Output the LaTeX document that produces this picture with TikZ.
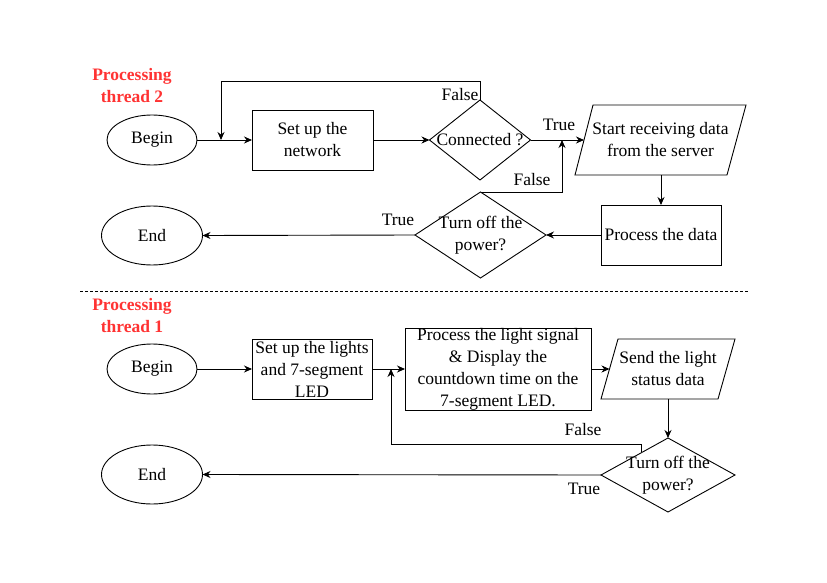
\documentclass[tikz,border=0pt]{standalone}
\usepackage{fontspec}
\setmainfont{Liberation Serif}
\usetikzlibrary{shapes.geometric,arrows.meta,calc}
\definecolor{ttlred}{RGB}{255,51,51}
\begin{document}
\begin{tikzpicture}[x=1pt,y=-1pt,
  base/.style={font=\fontsize{17.5}{22}\selectfont, inner sep=0pt, outer sep=0pt},
  term/.style={base, draw, line width=0.9pt, ellipse},
  proc/.style={base, draw, line width=0.9pt, rectangle, align=center},
  dec/.style={draw, line width=0.9pt, diamond, inner sep=0pt, outer sep=0pt},
  io/.style={draw, line width=0.9pt},
  txt/.style={base, align=center},
  lbl/.style={base},
  ttl/.style={font=\fontsize{17.5}{22}\selectfont\bfseries, inner sep=0pt, text=ttlred, align=center},
  arr/.style={line width=0.9pt, -{Stealth[length=8pt,width=7pt]}},
  sep/.style={line width=0.7pt, dash pattern=on 3pt off 2pt}
]
\useasboundingbox (0,0) rectangle (827,583);

% ---------------- thread 2 ----------------
\node[ttl] (t2) at (132,86) {Processing\\thread 2};
\node[term, minimum width=90, minimum height=50] (b2) at (152,140) {Begin};
\node[proc, minimum width=121, minimum height=60] (net) at (312.5,140) {Set up the\\network};
\node[dec, minimum width=101, minimum height=80] (conn) at (480,140) {};
\node[txt] (connt) at (480,140) {Connected ?};
\draw[io] (593,105) -- (746,105) -- (727,175) -- (575,175) -- cycle;
\node[txt] (recv) at (660.5,140) {Start receiving data\\from the server};
\coordinate (recvw) at (584,140);
\coordinate (recvs) at (661,175);
\node[proc, minimum width=120, minimum height=60] (data) at (661,235) {Process the data};
\node[dec, minimum width=131, minimum height=86] (off2) at (480.5,235) {};
\node[txt] (off2t) at (480.5,235) {Turn off the\\power?};
\node[term, minimum width=101, minimum height=59] (end2) at (152,235.5) {End};

\coordinate (loop2) at (221,81);
\coordinate (j2) at (562,140);
\draw[arr] (b2) -- (net);
\draw[arr] (net) -- (conn.west);
\draw[arr] (conn.north) |- (loop2) -- (loop2 |- b2);
\draw[arr] (conn.east) -- (recvw);
\draw[arr] (recvs) -- (data.north);
\draw[arr] (data.west) -- (off2.east);
\draw[arr] (off2.north) -| (j2);
\draw[arr] (off2.west) -- (end2.east);

\node[lbl] (f2a) at (460,95) {False};
\node[lbl] (t2a) at (559,125) {True};
\node[lbl] (f2b) at (532,180) {False};
\node[lbl] (t2b) at (398,220) {True};

% ---------------- separator ----------------
\coordinate (sepl) at (80,291);
\coordinate (sepr) at (748,291);
\draw[sep] (sepl) -- (sepr);

% ---------------- thread 1 ----------------
\node[ttl] (t1) at (132,316) {Processing\\thread 1};
\node[term, minimum width=90, minimum height=50] (b1) at (152,369) {Begin};
\node[proc, minimum width=120, minimum height=60] (setl) at (312,369) {Set up the lights\\and 7-segment\\LED};
\node[proc, minimum width=186, minimum height=80] (pl) at (498,369) {Process the light signal\\\& Display the\\countdown time on the\\7-segment LED.};
\draw[io] (618,339) -- (735,339) -- (718,399) -- (601,399) -- cycle;
\node[txt] (send) at (668,369) {Send the light\\status data};
\coordinate (sendw) at (609.5,369);
\coordinate (sends) at (668,399);
\node[dec, minimum width=134, minimum height=74] (off1) at (668,475) {};
\node[txt] (off1t) at (668,475) {Turn off the\\power?};
\node[term, minimum width=101, minimum height=59] (end1) at (152,474.5) {End};

\coordinate (fs1) at ($(off1.north)!0.39!(off1.west)$);
\coordinate (loop1) at (391,444);
\draw[arr] (b1) -- (setl);
\draw[arr] (setl) -- (pl);
\draw[arr] (pl.east) -- (sendw);
\draw[arr] (sends) -- (off1.north);
\draw[arr] (fs1) |- (loop1) -- (loop1 |- setl);
\draw[arr] (off1.west) -- (end1.east);

\node[lbl] (f1a) at (583,430) {False};
\node[lbl] (t1a) at (584,489) {True};
\end{tikzpicture}
\end{document}
